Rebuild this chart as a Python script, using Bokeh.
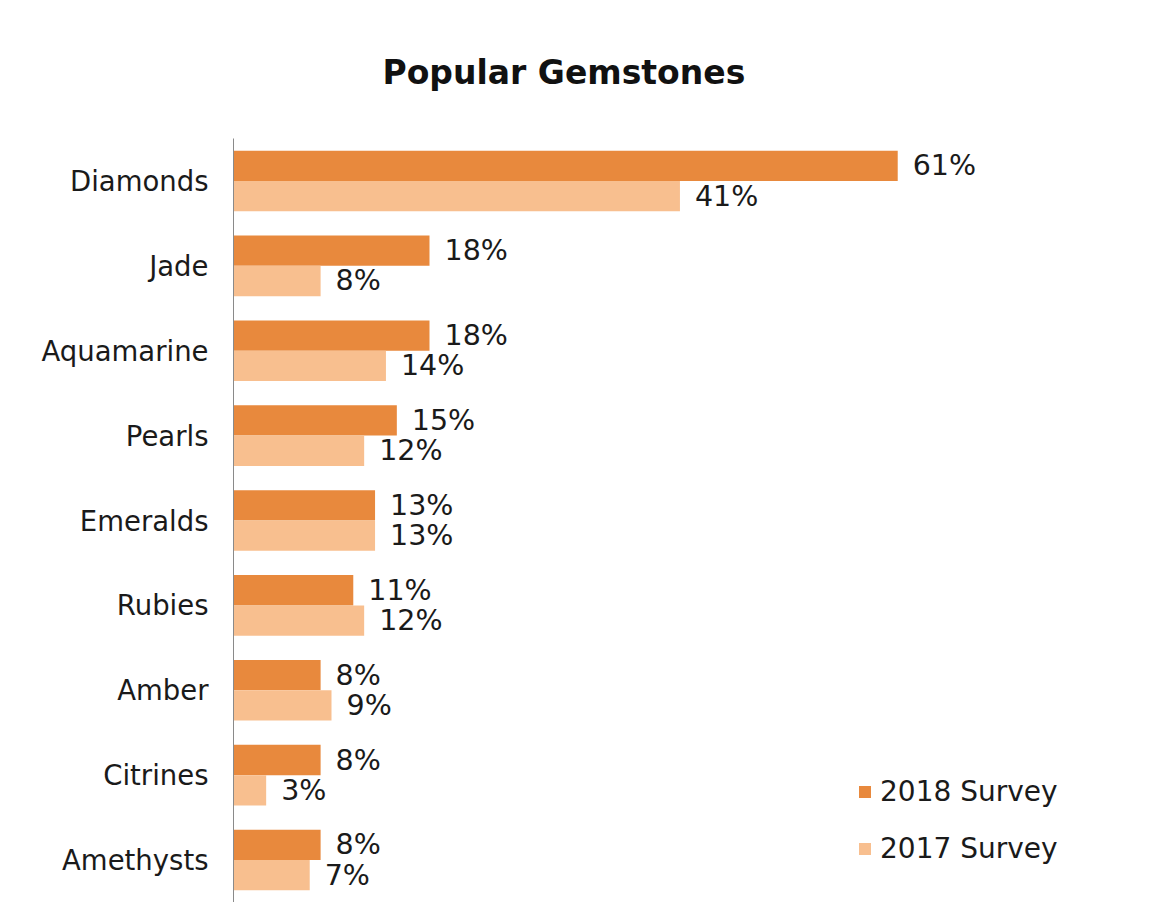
from bokeh.plotting import figure
from bokeh.models import ColumnDataSource, FactorRange, Range1d, LabelSet, Legend, LegendItem, Title
from bokeh.transform import dodge
from bokeh.core.properties import value
from bokeh.embed import file_html
from bokeh.resources import INLINE

gems = ["Diamonds", "Jade", "Aquamarine", "Pearls", "Emeralds", "Rubies", "Amber", "Citrines", "Amethysts"]
survey_2018 = [61, 18, 18, 15, 13, 11, 8, 8, 8]
survey_2017 = [41, 8, 14, 12, 13, 12, 9, 3, 7]
series_names = ["2018 Survey", "2017 Survey"]
title_text = "Popular Gemstones"

C18 = "#E8893D"
C17 = "#F8BF8F"
FONT = "DejaVu Sans"

src = ColumnDataSource(dict(
    gem=gems,
    v18=survey_2018,
    v17=survey_2017,
    l18=[f"{v}%" for v in survey_2018],
    l17=[f"{v}%" for v in survey_2017],
))

p = figure(
    width=1155, height=902,
    y_range=FactorRange(factors=list(reversed(gems)), range_padding=0),
    x_range=Range1d(0, 81),
    output_backend="svg", toolbar_location=None,
    min_border_left=233, min_border_right=40, min_border_top=138, min_border_bottom=0,
    background_fill_color="white", border_fill_color="white", outline_line_color=None,
)

r18 = p.hbar(y=dodge("gem", 0.1785, range=p.y_range), right="v18", left=0, height=0.357,
             source=src, fill_color=C18, line_color=None)
r17 = p.hbar(y=dodge("gem", -0.1785, range=p.y_range), right="v17", left=0, height=0.357,
             source=src, fill_color=C17, line_color=None)

lab18 = LabelSet(x="v18", y=dodge("gem", 0.1785, range=p.y_range), text="l18", source=src,
                 x_offset=15, text_baseline="middle", text_font=value(FONT),
                 text_font_size="28.5px", text_color="#1a1a1a")
lab17 = LabelSet(x="v17", y=dodge("gem", -0.1785, range=p.y_range), text="l17", source=src,
                 x_offset=15, text_baseline="middle", text_font=value(FONT),
                 text_font_size="28.5px", text_color="#1a1a1a")
p.add_layout(lab18)
p.add_layout(lab17)

p.xaxis.visible = False
p.xgrid.visible = False
p.ygrid.visible = False
p.yaxis.axis_line_color = "#8a8a8a"
p.yaxis.axis_line_width = 1
p.yaxis.major_tick_line_color = None
p.yaxis.minor_tick_line_color = None
p.yaxis.major_tick_out = 0
p.yaxis.major_tick_in = 0
p.yaxis.major_label_standoff = 25
p.yaxis.major_label_text_font = FONT
p.yaxis.major_label_text_font_size = "27.5px"
p.yaxis.major_label_text_color = "#1a1a1a"

p.title = Title(text=title_text, align="left", offset=149, text_font=FONT,
                text_font_size="33px", text_font_style="bold", text_color="#111111",
                vertical_align="top", standoff=90)

legend = Legend(items=[LegendItem(label=series_names[0], renderers=[r18]),
                       LegendItem(label=series_names[1], renderers=[r17])],
                location=(624, 37), orientation="vertical",
                glyph_width=15, glyph_height=15, label_height=30, spacing=24,
                label_standoff=8, padding=0, margin=0,
                label_text_font=FONT, label_text_font_size="28px", label_text_color="#1a1a1a",
                background_fill_alpha=0, border_line_color=None)
p.add_layout(legend, "center")

open("out.html", "w").write(file_html(p, INLINE))
